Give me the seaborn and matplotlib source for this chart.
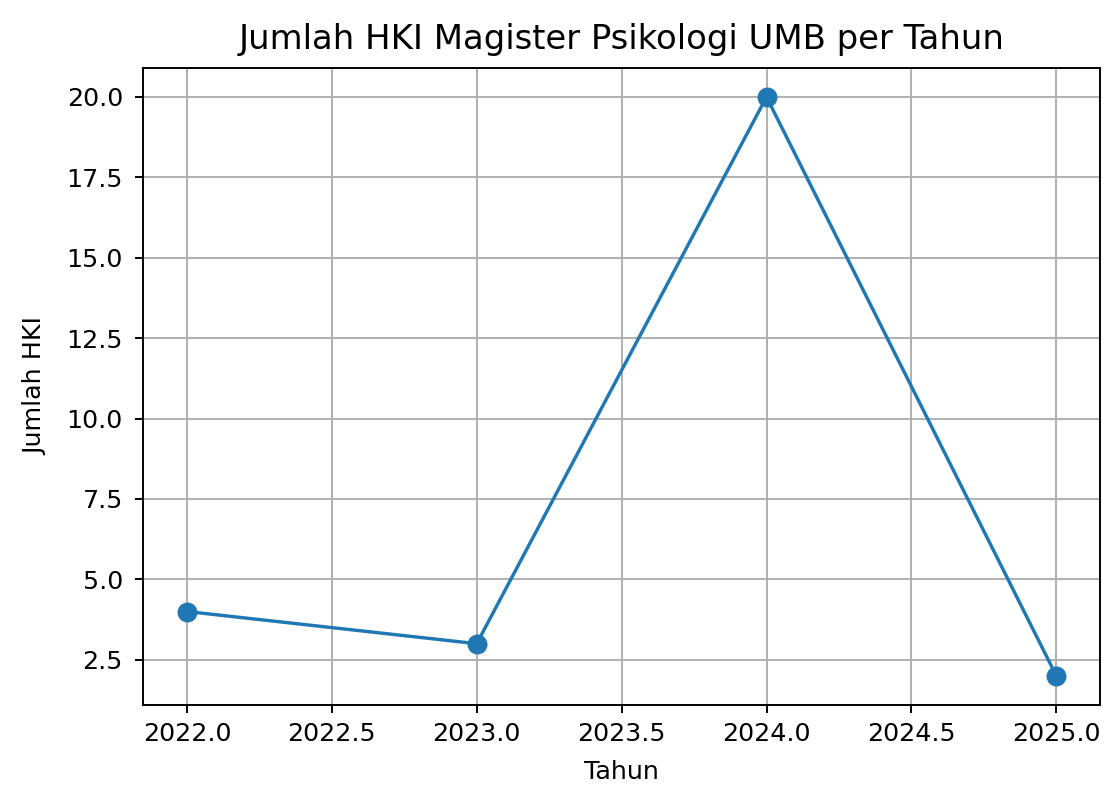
import matplotlib
matplotlib.use("Agg")
import matplotlib.pyplot as plt
import seaborn as sns
import pandas as pd

# data
tahun = [2022, 2023, 2024, 2025]
jumlah_hki = [4, 3, 20, 2]

df = pd.DataFrame({"Tahun": tahun, "Jumlah HKI": jumlah_hki})

sns.set_style("ticks")
plt.rcParams["font.family"] = ["DejaVu Sans"]
plt.rcParams["text.color"] = "black"
plt.rcParams["axes.labelcolor"] = "black"
plt.rcParams["xtick.color"] = "black"
plt.rcParams["ytick.color"] = "black"

fig = plt.figure(figsize=(1112 / 174, 791 / 174), dpi=174)
ax = fig.add_axes([0.129, 0.109, 0.86, 0.805])

sns.lineplot(data=df, x="Tahun", y="Jumlah HKI", marker="o", color="#1f77b4",
             markeredgecolor="#1f77b4", markersize=7.5, linewidth=1.4, ax=ax)

ax.set_title("Jumlah HKI Magister Psikologi UMB per Tahun", fontsize=14, pad=8)
ax.set_xlabel("Tahun", fontsize=10.5, labelpad=6)
ax.set_ylabel("Jumlah HKI", fontsize=10.5, labelpad=8)
ax.grid(True, color="#b0b0b0", linewidth=0.8)
for s in ax.spines.values():
    s.set_color("black")
    s.set_linewidth(0.8)
ax.tick_params(labelsize=10.5, length=3.5, width=0.8, color="black")
ax.tick_params(axis="y", pad=5)

fig.savefig("out.png", dpi=174)
